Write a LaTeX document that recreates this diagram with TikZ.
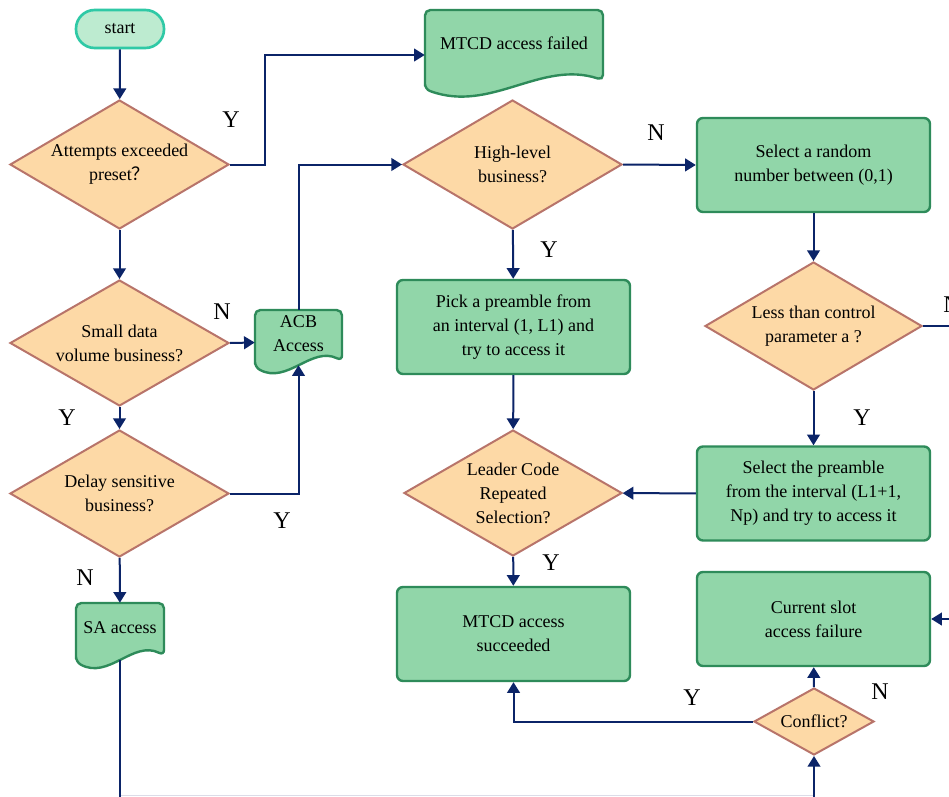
\documentclass[tikz,border=0pt]{standalone}
\usepackage{fontspec}
\setmainfont{Liberation Serif}
\newfontfamily\cjkfont{Noto Sans CJK SC}
\usetikzlibrary{shapes.geometric,arrows.meta,calc}
\definecolor{arr}{HTML}{0B2468}
\definecolor{dfill}{HTML}{FDD9A6}
\definecolor{ddraw}{HTML}{B8746A}
\definecolor{gfill}{HTML}{91D6A9}
\definecolor{gdraw}{HTML}{2E8B5A}
\definecolor{sfill}{HTML}{BDEBD0}
\definecolor{sdraw}{HTML}{2FC9A6}
\definecolor{faint}{HTML}{DCDCE8}
\newcommand\docnode[6]{%
 \pgfmathsetmacro\dw{#4-#2}\pgfmathsetmacro\dh{#5-#3}%
 \draw[docsty] (#2,{#5-0.12*\dh}) -- (#2,#3) -- (#4,#3) -- (#4,{#5-0.22*\dh})
   .. controls ({#2+0.65*\dw},{#5-0.45*\dh}) and ({#2+0.37*\dw},{#5+0.15*\dh}) .. (#2,{#5-0.12*\dh}) -- cycle;
 \node[inner sep=0pt, minimum width=\dw*0.75pt, minimum height=\dh*0.75pt] (#1) at ({(#2+#4)/2},{(#3+#5)/2}) {};
 \node[align=center] (#1-t) at ({(#2+#4)/2},{#3+0.37*\dh}) {#6};
}
\begin{document}
\begin{tikzpicture}[x=0.75pt,y=-0.75pt,
 every node/.style={font=\fontsize{13.5}{18}\selectfont},
 dec/.style={diamond, draw=ddraw, fill=dfill, line width=1.5pt, inner sep=0pt, shape aspect=1.7, align=center},
 gbox/.style={rectangle, rounded corners=4.5pt, draw=gdraw, fill=gfill, line width=1.8pt, minimum width=174.75pt, minimum height=70.5pt, align=center},
 docsty/.style={draw=gdraw, fill=gfill, line width=1.8pt, rounded corners=4pt},
 startsty/.style={rectangle, rounded corners=14pt, draw=sdraw, fill=sfill, line width=2pt, minimum width=66pt, minimum height=28.5pt},
 arrow/.style={draw=arr, line width=1.5pt, -{Triangle[length=8pt,width=9.5pt]}},
 plain/.style={draw=arr, line width=1.5pt},
 yn/.style={font=\fontsize{18}{20}\selectfont}]
\clip (0,0) rectangle (949,796);
\fill[white] (0,0) rectangle (949,796);

% nodes
\node[startsty] (start) at (120,29) {start};
\node[dec, minimum width=164.25pt, minimum height=96.75pt] (d1) at (119.5,164.5) {Attempts exceeded\\preset{\cjkfont ？}};
\node[dec, minimum width=164.25pt, minimum height=94.5pt] (d2) at (119.5,343) {Small data\\volume business?};
\node[dec, minimum width=164.25pt, minimum height=95.25pt] (d3) at (119.5,493.5) {Delay sensitive\\business?};
\node[dec, minimum width=164.25pt, minimum height=96.75pt] (d4) at (512.5,164.5) {High-level\\business?};
\node[dec, minimum width=162.75pt, minimum height=96pt] (d5) at (813.5,326) {Less than control\\parameter a ?};
\node[dec, minimum width=163.5pt, minimum height=94.5pt] (d6) at (513,493) {Leader Code\\Repeated\\Selection?};
\node[dec, minimum width=90pt, minimum height=50.25pt] (d7) at (814,721.5) {Conflict?};

\node[gbox] (rand) at (813.5,165) {Select a random\\number between (0,1)};
\node[gbox] (pick) at (513.5,327) {Pick a preamble from\\an interval (1, L1) and\\try to access it};
\node[gbox] (pre) at (813.5,493.5) {Select the preamble\\from the interval (L1+1,\\Np) and try to access it};
\node[gbox] (succ) at (513.5,634) {MTCD access\\succeeded};
\node[gbox] (fail) at (813.5,619) {Current slot\\access failure};

\docnode{failed}{425}{10}{603}{100}{MTCD access failed}
\docnode{acb}{255}{310}{342}{375}{ACB\\Access}
\docnode{sa}{76}{603}{164}{670}{SA access}

\coordinate (bl) at (120,797);
\coordinate (br) at (814,797);
\coordinate (rt) at (965,326);

% connectors
\draw[arrow] (start) -- (d1);
\draw[arrow] (d1.east) -- ++(35,0) |- (failed.west);
\draw[arrow] (d1) -- (d2);
\draw[arrow] (d2.east) -- (acb.west);
\draw[arrow] (d2) -- (d3);
\draw[arrow] (d3.east) -| ([yshift=7.5pt]acb.south);
\draw[arrow] (acb.north) |- (d4.west);
\draw[arrow] (d3) -- (sa);
\draw[plain] ([yshift=8pt]sa.south) -- (bl);
\draw[faint, line width=0.9pt] (121,795.5) -- (813,795.5);
\draw[arrow] (br) -- (d7.south);
\draw[arrow] (d4.east) -- (rand.west);
\draw[arrow] (d4) -- (pick);
\draw[arrow] (rand) -- (d5);
\draw[arrow] (d5.east) -- (rt) |- (fail.east);
\draw[arrow] (d5) -- (pre);
\draw[arrow] (pre) -- (d6);
\draw[arrow] (pick) -- (d6);
\draw[arrow] (d6) -- (succ);
\draw[arrow] (d7.west) -| (succ.south);
\draw[arrow] (d7) -- (fail);

% labels
\node[yn] (l1) at (231,120) {Y};
\node[yn] (l2) at (222,312) {N};
\node[yn] (l3) at (67,418) {Y};
\node[yn] (l4) at (282,521) {Y};
\node[yn] (l5) at (85,578) {N};
\node[yn] (l6) at (656,133) {N};
\node[yn] (l7) at (549,250) {Y};
\node[yn] (l8) at (952,305) {N};
\node[yn] (l9) at (862,418) {Y};
\node[yn] (l10) at (551,563) {Y};
\node[yn] (l11) at (692,698) {Y};
\node[yn] (l12) at (880,692) {N};
\end{tikzpicture}
\end{document}
